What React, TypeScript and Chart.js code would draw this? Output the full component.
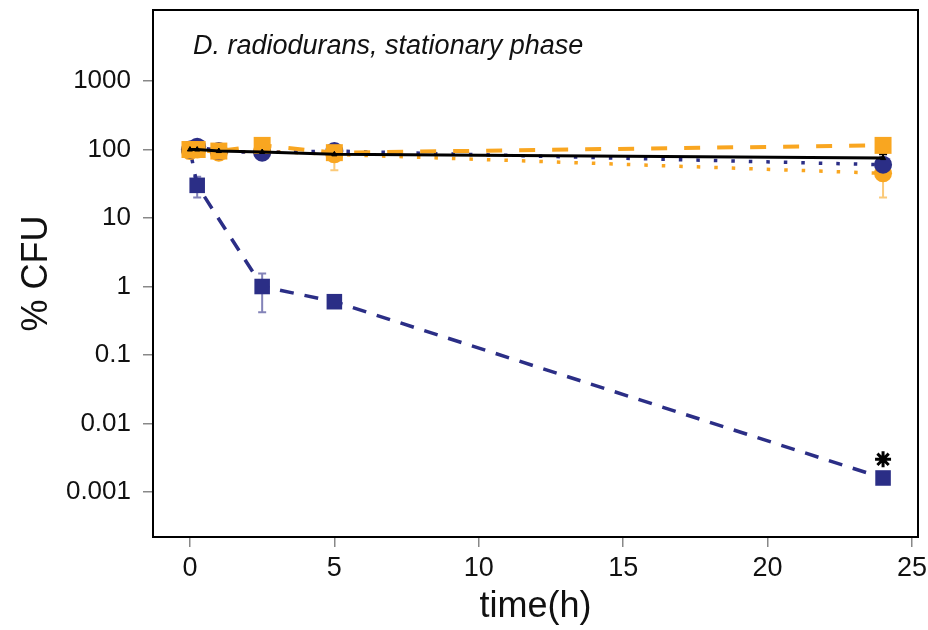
import React, { useEffect, useRef } from "react";
import { Chart, registerables } from "chart.js";

Chart.register(...registerables);

const titleText = "D. radiodurans, stationary phase";
const xTitle = "time(h)";
const yTitle = "% CFU";

const yTicks = [0.001, 0.01, 0.1, 1, 10, 100, 1000];
const yTickLabels = ["0.001", "0.01", "0.1", "1", "10", "100", "1000"];
const xTicks = [0, 5, 10, 15, 20, 25];

const times = [0, 0.25, 1, 2.5, 5, 24];
const navySqTimes = [0, 0.25, 2.5, 5, 24];

const navySquares = [100, 30, 1.0, 0.6, 0.0016];
const navySqErrLo = [null, 20, 0.42, 0.5, null];
const navySqErrHi = [null, 40, 1.55, 0.7, null];

const orangeCircles = [95, 100, 90, 95, 85, 45];
const orangeCircErrLo = [null, null, null, null, null, 20];
const orangeCircErrHi = [null, null, null, null, null, 60];

const navyCircles = [100, 110, 95, 90, 95, 60];
const navyCircErrLo = [null, null, null, null, null, 45];
const navyCircErrHi = [null, null, null, null, null, 75];

const orangeSquares = [100, 100, 95, 115, 90, 115];
const orangeSqErrLo = [null, null, null, null, 50, null];
const orangeSqErrHi = [null, null, null, null, 100, null];

const blackLine = [100, 100, 95, 92, 85, 75];
const blackErrLo = [null, null, null, null, null, 68];
const blackErrHi = [null, null, null, null, null, 85];

const starTimes = [24];
const starValues = [0.003];

const NAVY = "#2B2E86";
const ORANGE = "#F9A620";
const FONT = "'Liberation Sans', Arial, sans-serif";

const zip = (xs: number[], ys: number[]) => xs.map((x, i) => ({ x, y: ys[i] }));

const errorBarPlugin = {
  id: "errorBars",
  beforeDatasetsDraw(chart: any) {
    const ctx = chart.ctx;
    const xs = chart.scales.x;
    const ys = chart.scales.y;
    chart.data.datasets.forEach((ds: any) => {
      if (!ds.errLo) return;
      ctx.save();
      ctx.strokeStyle = ds.errColor;
      ctx.lineWidth = 2;
      ds.data.forEach((p: any, i: number) => {
        const lo = ds.errLo[i];
        const hi = ds.errHi[i];
        if (lo == null || hi == null) return;
        const px = xs.getPixelForValue(p.x);
        const py1 = ys.getPixelForValue(lo);
        const py2 = ys.getPixelForValue(hi);
        ctx.beginPath();
        ctx.moveTo(px, py1);
        ctx.lineTo(px, py2);
        ctx.moveTo(px - 4, py1);
        ctx.lineTo(px + 4, py1);
        ctx.moveTo(px - 4, py2);
        ctx.lineTo(px + 4, py2);
        ctx.stroke();
      });
      ctx.restore();
    });
  },
};

const framePlugin = {
  id: "frame",
  afterDraw(chart: any) {
    const { ctx, chartArea } = chart;
    ctx.save();
    ctx.strokeStyle = "#000";
    ctx.lineWidth = 2;
    ctx.strokeRect(chartArea.left, chartArea.top, chartArea.right - chartArea.left, chartArea.bottom - chartArea.top);
    ctx.font = "italic 27px " + FONT;
    ctx.fillStyle = "#111";
    ctx.textBaseline = "alphabetic";
    ctx.textAlign = "left";
    ctx.fillText(titleText, chartArea.left + 40, chartArea.top + 44);
    ctx.restore();
  },
};

export default function App() {
  const ref = useRef<HTMLCanvasElement>(null);
  useEffect(() => {
    if (!ref.current) return;
    const chart = new Chart(ref.current, {
      type: "line",
      data: {
        datasets: [
          {
            label: "navy squares",
            data: zip(navySqTimes, navySquares),
            errLo: navySqErrLo,
            errHi: navySqErrHi,
            errColor: "rgba(90,90,160,0.75)",
            borderColor: NAVY,
            backgroundColor: NAVY,
            borderWidth: 3.5,
            borderDash: [14, 11],
            pointStyle: "rect",
            pointRadius: 11,
            pointBorderWidth: 0,
            order: 5,
          } as any,
          {
            label: "orange circles",
            data: zip(times, orangeCircles),
            errLo: orangeCircErrLo,
            errHi: orangeCircErrHi,
            errColor: "rgba(249,166,32,0.6)",
            borderColor: ORANGE,
            backgroundColor: ORANGE,
            borderWidth: 3.5,
            borderDash: [3.5, 14],
            pointStyle: "circle",
            pointRadius: 9,
            pointBorderWidth: 0,
            order: 4,
          } as any,
          {
            label: "navy circles",
            data: zip(times, navyCircles),
            errLo: navyCircErrLo,
            errHi: navyCircErrHi,
            errColor: "rgba(150,100,170,0.8)",
            borderColor: NAVY,
            backgroundColor: NAVY,
            borderWidth: 3.5,
            borderDash: [3.5, 14],
            pointStyle: "circle",
            pointRadius: 9,
            pointBorderWidth: 0,
            order: 3,
          } as any,
          {
            label: "orange squares",
            data: zip(times, orangeSquares),
            errLo: orangeSqErrLo,
            errHi: orangeSqErrHi,
            errColor: "rgba(249,166,32,0.6)",
            borderColor: ORANGE,
            backgroundColor: ORANGE,
            borderWidth: 4,
            borderDash: [16, 17],
            pointStyle: "rect",
            pointRadius: 12,
            pointBorderWidth: 0,
            order: 2,
          } as any,
          {
            label: "black",
            data: zip(times, blackLine),
            errLo: blackErrLo,
            errHi: blackErrHi,
            errColor: "#000",
            borderColor: "#000",
            backgroundColor: "#000",
            borderWidth: 3,
            pointStyle: "triangle",
            pointRadius: 3,
            pointBorderWidth: 1,
            order: 1,
          } as any,
          {
            label: "star",
            data: zip(starTimes, starValues),
            showLine: false,
            borderColor: "#000",
            backgroundColor: "#000",
            pointStyle: "star",
            pointRadius: 8,
            pointBorderWidth: 3,
            order: 0,
          } as any,
        ],
      },
      options: {
        animation: false,
        responsive: false,
        maintainAspectRatio: false,
        layout: { autoPadding: false, padding: { top: 10, right: 10, left: 0, bottom: 0 } },
        plugins: {
          legend: { display: false },
          tooltip: { enabled: false },
          title: { display: false },
        },
        scales: {
          x: {
            type: "linear",
            min: -1.28,
            max: 25.21,
            afterBuildTicks: (s: any) => {
              s.ticks = xTicks.map((v) => ({ value: v }));
            },
            afterFit: (s: any) => {
              s.height = 93;
              s.paddingLeft = 0;
              s.paddingRight = 0;
            },
            grid: {
              drawOnChartArea: false,
              drawTicks: true,
              tickLength: 10,
              color: "#888",
              lineWidth: 1.5,
            },
            border: { display: false },
            ticks: {
              color: "#111",
              font: { size: 27, family: FONT },
              padding: 5,
              maxRotation: 0,
              callback: (v: any) => String(v),
            },
            title: {
              display: true,
              text: xTitle,
              color: "#111",
              font: { size: 36, family: FONT },
              padding: { top: 0, bottom: 1 },
            },
          },
          y: {
            type: "logarithmic",
            min: 0.00022,
            max: 10900,
            afterBuildTicks: (s: any) => {
              s.ticks = yTicks.map((v) => ({ value: v }));
            },
            afterFit: (s: any) => {
              s.width = 153;
              s.paddingTop = 0;
              s.paddingBottom = 0;
            },
            grid: {
              drawOnChartArea: false,
              drawTicks: true,
              tickLength: 10,
              color: "#888",
              lineWidth: 1.5,
            },
            border: { display: false },
            ticks: {
              color: "#111",
              font: { size: 26, family: FONT },
              padding: 12,
              callback: (v: any) => {
                const i = yTicks.findIndex((t) => Math.abs(Math.log10(t) - Math.log10(v)) < 1e-6);
                return i >= 0 ? yTickLabels[i] : "";
              },
            },
            title: {
              display: true,
              text: yTitle,
              color: "#111",
              font: { size: 36, family: FONT },
              padding: { top: 15, bottom: 0 },
            },
          },
        },
      } as any,
      plugins: [errorBarPlugin, framePlugin],
    });
    return () => chart.destroy();
  }, []);
  return (
    <div style={{ position: "fixed", left: 0, top: 0, width: 928, height: 630, background: "#fff" }}>
      <canvas ref={ref} width={928} height={630} style={{ display: "block", width: 928, height: 630 }} />
    </div>
  );
}
